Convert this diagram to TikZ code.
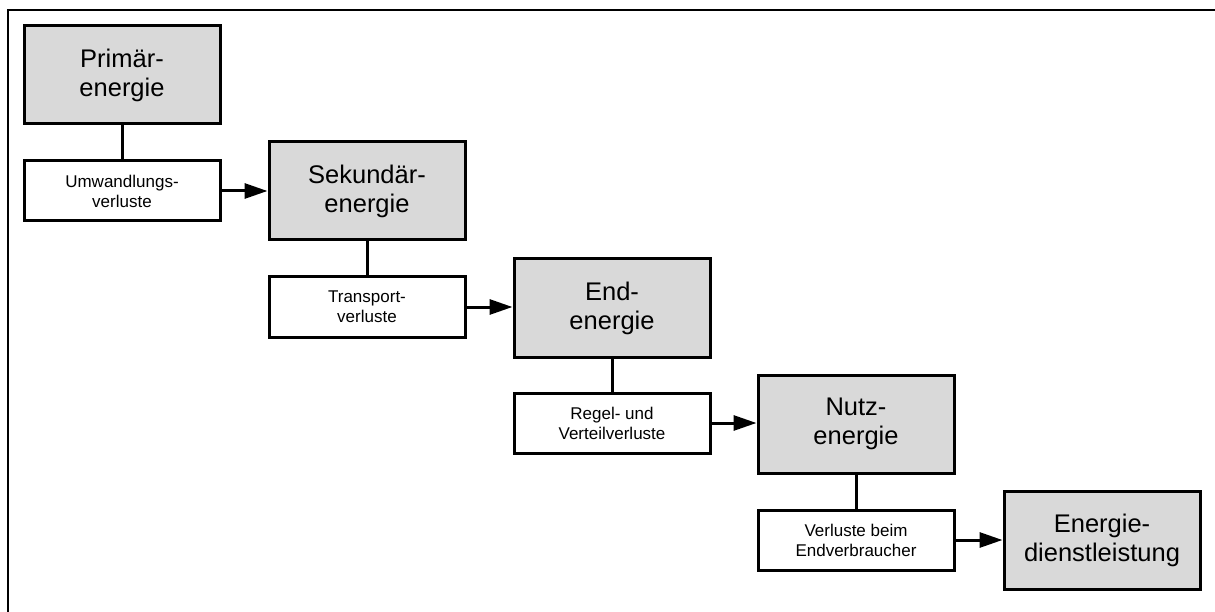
\documentclass[tikz,border=0pt]{standalone}
\usepackage{fontspec}
\setmainfont{Liberation Sans}
\usetikzlibrary{arrows.meta}
\definecolor{boxgray}{RGB}{217,217,217}
\begin{document}
\begin{tikzpicture}[x=1pt,y=-1pt,
  stage/.style={draw, line width=3pt, fill=boxgray, minimum width=196pt,
    minimum height=98pt, align=center, inner sep=0pt,
    font=\fontsize{25.5}{29}\selectfont},
  loss/.style={draw, line width=3pt, fill=white, minimum width=196pt,
    minimum height=60pt, align=center, inner sep=0pt,
    font=\fontsize{17}{20}\selectfont},
  link/.style={line width=3pt},
  flow/.style={line width=3pt, -{Triangle[length=23pt,width=15pt]}},
  frameline/.style={line width=2.4pt}
]
\useasboundingbox (0,0) rectangle (1215,612);

% outer frame (left and top edges)
\coordinate (fbl) at (8,612);
\coordinate (ftl) at (8,10);
\coordinate (ftr) at (1215,10);
\draw[frameline] (fbl) -- (ftl) -- (ftr);

% energy stages
\node[stage] (prim) at (122,75)  {Primär-\\energie};
\node[stage] (sek)  at (367,191) {Sekundär-\\energie};
\node[stage] (end)  at (612,308) {End-\\energie};
\node[stage] (nutz) at (856,424) {Nutz-\\energie};
\node[stage] (dien) at (1102,540) {Energie-\\dienstleistung};

% losses between stages
\node[loss] (umw)  at (122,191) {Umwandlungs-\\verluste};
\node[loss] (tra)  at (367,307) {Transport-\\verluste};
\node[loss] (reg)  at (612,423) {Regel- und\\Verteilverluste};
\node[loss] (vbr)  at (856,540) {Verluste beim\\Endverbraucher};

% stage to loss links
\draw[link] (prim.south) -- (umw.north);
\draw[link] (sek.south)  -- (tra.north);
\draw[link] (end.south)  -- (reg.north);
\draw[link] (nutz.south) -- (vbr.north);

% flow to the next stage
\draw[flow] (umw.east) -- (umw.east -| sek.west);
\draw[flow] (tra.east) -- (tra.east -| end.west);
\draw[flow] (reg.east) -- (reg.east -| nutz.west);
\draw[flow] (vbr.east) -- (vbr.east -| dien.west);
\end{tikzpicture}
\end{document}
